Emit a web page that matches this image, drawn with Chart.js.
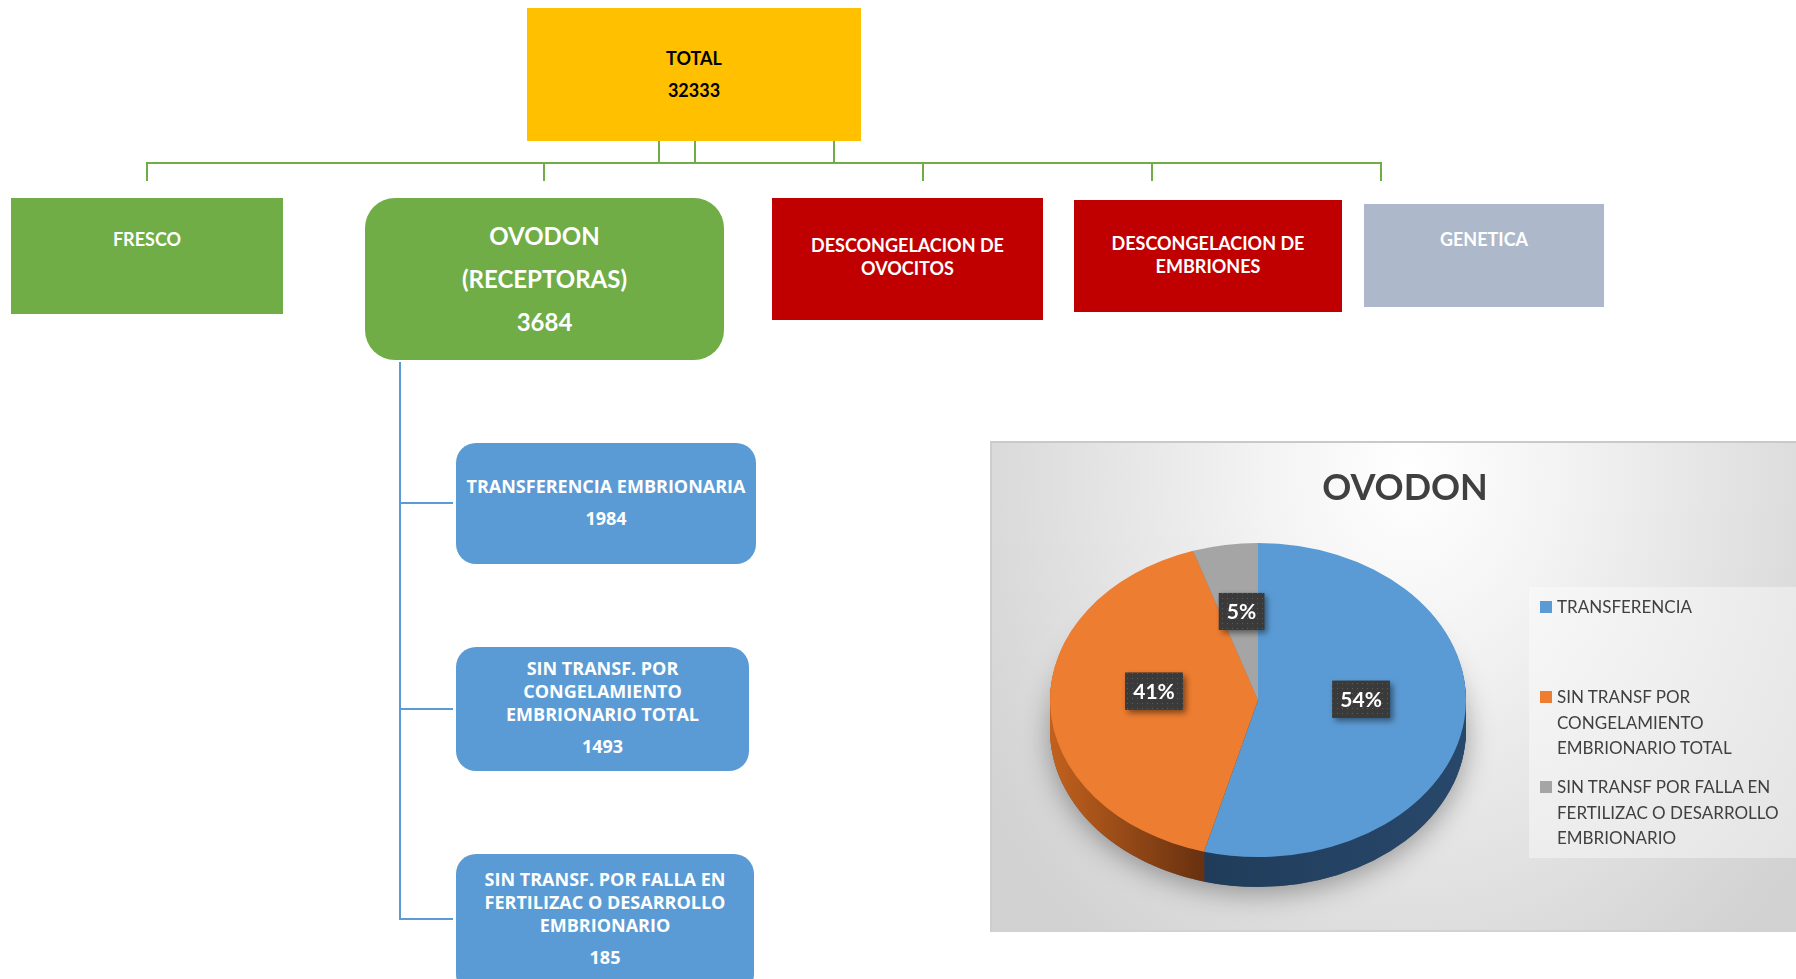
<!DOCTYPE html>
<html lang="es">
<head>
<meta charset="utf-8">
<title>OVODON</title>
<script src="https://cdn.jsdelivr.net/npm/chart.js@4.4.0/dist/chart.umd.min.js"></script>
<style>
  html, body { margin: 0; padding: 0; background: #fff; }
  body { width: 1796px; height: 979px; position: relative; overflow: hidden; font-family: Lato, "Open Sans", sans-serif; }
  .box { position: absolute; box-sizing: border-box; text-align: center; color: #fff; font-weight: 700; }
  .green { background: #70AD47; }
  .red { background: #C00000; }
  .blue { background: #5B9BD5; border-radius: 20px; font-family: "Open Sans", sans-serif; font-size: 18px; line-height: 23px; }
  .gline { position: absolute; background: #70AD47; }
  .bline { position: absolute; background: #5B9BD5; }
  #panel { position: absolute; left: 990px; top: 441px; width: 806px; height: 491px; box-sizing: border-box;
    border-top: 2px solid #c9c9c9; border-left: 2px solid #cdcdcd; border-bottom: 2px solid #d2d2d2;
    background: radial-gradient(ellipse 62% 125% at 52% 6%, #ffffff 0%, #f3f3f3 30%, #d2d2d2 100%); }
  #legendBg { position: absolute; left: 1529px; top: 587px; width: 267px; height: 271px; background: rgba(255,255,255,0.4); }
  #chartWrap { position: absolute; left: 990px; top: 441px; width: 806px; height: 491px; }
  #pieTitle { position: absolute; left: 1255px; top: 464px; width: 300px; text-align: center; font: 700 36px/44px Lato, sans-serif; color: #404040; }
  #legend { position: absolute; left: 0; top: 0; font: 400 17px/25.5px Lato, sans-serif; color: #404040; }
  .item { position: absolute; left: 1540px; }
  .item .sw { position: absolute; left: 0; top: 7px; width: 12px; height: 12px; }
  .item .tx { position: absolute; left: 17px; top: 0; white-space: nowrap; }
</style>
</head>
<body>

<!-- top level -->
<div class="box" style="left:527px;top:8px;width:334px;height:133px;background:#FFC000;color:#000;font-size:18px;line-height:32px;padding-top:34px;">TOTAL<br>32333</div>

<div class="gline" style="left:146px;top:162px;width:1236px;height:2px;"></div>
<div class="gline" style="left:658px;top:141px;width:2px;height:22px;"></div>
<div class="gline" style="left:694px;top:141px;width:2px;height:22px;"></div>
<div class="gline" style="left:833px;top:141px;width:2px;height:22px;"></div>
<div class="gline" style="left:146px;top:162px;width:2px;height:19px;"></div>
<div class="gline" style="left:543px;top:162px;width:2px;height:19px;"></div>
<div class="gline" style="left:922px;top:162px;width:2px;height:19px;"></div>
<div class="gline" style="left:1151px;top:162px;width:2px;height:19px;"></div>
<div class="gline" style="left:1380px;top:162px;width:2px;height:19px;"></div>

<div class="box green" style="left:11px;top:198px;width:272px;height:116px;font-size:18px;line-height:24px;padding-top:29px;">FRESCO</div>
<div class="box green" style="left:365px;top:198px;width:359px;height:162px;border-radius:30px;font-size:24px;line-height:43px;padding-top:16px;">OVODON<br>(RECEPTORAS)<br>3684</div>
<div class="box red" style="left:772px;top:198px;width:271px;height:122px;font-size:18px;line-height:23px;padding-top:36px;">DESCONGELACION DE<br>OVOCITOS</div>
<div class="box red" style="left:1074px;top:200px;width:268px;height:112px;font-size:18px;line-height:23px;padding-top:32px;">DESCONGELACION DE<br>EMBRIONES</div>
<div class="box" style="left:1364px;top:204px;width:240px;height:103px;background:#ADB9CA;font-size:18px;line-height:24px;padding-top:23px;">GENETICA</div>

<!-- ovodon branch -->
<div class="bline" style="left:399px;top:362px;width:2px;height:558px;"></div>
<div class="bline" style="left:399px;top:502px;width:54px;height:2px;"></div>
<div class="bline" style="left:399px;top:708px;width:54px;height:2px;"></div>
<div class="bline" style="left:399px;top:918px;width:54px;height:2px;"></div>

<div class="box blue" style="left:456px;top:443px;width:300px;height:121px;padding-top:32px;">TRANSFERENCIA EMBRIONARIA<div id="n0" style="margin-top:9px;"></div></div>
<div class="box blue" style="left:456px;top:647px;width:293px;height:124px;padding-top:10px;">SIN TRANSF. POR<br>CONGELAMIENTO<br>EMBRIONARIO TOTAL<div id="n1" style="margin-top:9px;"></div></div>
<div class="box blue" style="left:456px;top:854px;width:298px;height:140px;padding-top:14px;">SIN TRANSF. POR FALLA EN<br>FERTILIZAC O DESARROLLO<br>EMBRIONARIO<div id="n2" style="margin-top:9px;"></div></div>

<!-- pie panel -->
<div id="panel"></div>
<div id="legendBg"></div>
<div id="chartWrap"><canvas id="pieChart"></canvas></div>
<div id="pieTitle">OVODON</div>
<div id="legend"></div>

<script>
const categories = [
    ['TRANSFERENCIA'],
    ['SIN TRANSF POR', 'CONGELAMIENTO', 'EMBRIONARIO TOTAL'],
    ['SIN TRANSF POR FALLA EN', 'FERTILIZAC O DESARROLLO', 'EMBRIONARIO']
];
const values = [1984, 1493, 185];
const sliceColors = ['#5B9BD5', '#ED7D31', '#A5A5A5'];

// side of the 3d pie: gradient stops across the pie width
const sideStops = [
    [[0, '#1c3551'], [1, '#28486b']],
    [[0, '#c2611e'], [0.36, '#6a3210'], [1, '#6a3210']],
    [[0, '#707070'], [1, '#8c8c8c']]
];
const tilt = 0.755;
const depth = 30;
const labelLift = 11;

document.addEventListener('DOMContentLoaded', () => {
    values.forEach((v, i) => { document.getElementById('n' + i).textContent = v; });
    buildLegend();
    createPie();
});

function buildLegend() {
    const legend = document.getElementById('legend');
    categories.forEach((lines, i) => {
        const item = document.createElement('div');
        item.className = 'item';
        item.style.top = (594 + 90 * i) + 'px';
        item.innerHTML = `<span class="sw" style="background:${sliceColors[i]}"></span><span class="tx">${lines.join('<br>')}</span>`;
        legend.appendChild(item);
    });
}

function makeDotPattern(ctx) {
    const c = document.createElement('canvas');
    c.width = 5; c.height = 5;
    const p = c.getContext('2d');
    p.fillStyle = '#3a3a3a';
    p.fillRect(0, 0, 5, 5);
    p.fillStyle = '#5c5c5c';
    p.fillRect(2, 2, 1, 1);
    return ctx.createPattern(c, 'repeat');
}

const pie3d = {
    id: 'pie3d',
    beforeDatasetsDraw(chart) {
        const ctx = chart.ctx;
        const arcs = chart.getDatasetMeta(0).data;
        const cx = arcs[0].x, cy = arcs[0].y, r = arcs[0].outerRadius;
        ctx.save();
        ctx.translate(cx, cy);
        ctx.scale(1, tilt);
        ctx.translate(-cx, -cy);

        // soft shadow under the pie
        ctx.save();
        ctx.shadowColor = 'rgba(0,0,0,0.35)';
        ctx.shadowBlur = 28;
        ctx.shadowOffsetY = 6;
        ctx.beginPath();
        ctx.arc(cx, cy + depth / tilt, r, 0, Math.PI * 2);
        ctx.fillStyle = '#555';
        ctx.fill();
        ctx.restore();

        const fills = sideStops.map(stops => {
            const g = ctx.createLinearGradient(cx - r, 0, cx + r, 0);
            stops.forEach(s => g.addColorStop(s[0], s[1]));
            return g;
        });
        for (let d = depth; d >= 1; d--) {
            arcs.forEach((arc, i) => {
                const y = arc.y + d / tilt;
                ctx.beginPath();
                ctx.moveTo(arc.x, y);
                ctx.arc(arc.x, y, arc.outerRadius, arc.startAngle, arc.endAngle);
                ctx.closePath();
                ctx.fillStyle = fills[i];
                ctx.fill();
            });
        }
    },
    afterDatasetsDraw(chart) {
        const ctx = chart.ctx;
        ctx.restore();
        const total = values.reduce((a, b) => a + b, 0);
        const pattern = makeDotPattern(ctx);
        chart.getDatasetMeta(0).data.forEach((arc, i) => {
            const p = arc.tooltipPosition();
            const x = p.x;
            const y = arc.y + (p.y - arc.y) * tilt - labelLift;
            const text = Math.round(values[i] / total * 100) + '%';
            ctx.save();
            ctx.font = '700 21px Lato, sans-serif';
            const w = ctx.measureText(text).width + 16, h = 37;
            ctx.shadowColor = 'rgba(0,0,0,0.45)';
            ctx.shadowBlur = 6;
            ctx.shadowOffsetX = 3;
            ctx.shadowOffsetY = 3;
            ctx.fillStyle = '#3a3a3a';
            ctx.fillRect(x - w / 2, y - h / 2, w, h);
            ctx.shadowColor = 'transparent';
            ctx.fillStyle = pattern;
            ctx.fillRect(x - w / 2, y - h / 2, w, h);
            ctx.fillStyle = '#fff';
            ctx.textAlign = 'center';
            ctx.textBaseline = 'middle';
            ctx.fillText(text, x, y + 1);
            ctx.restore();
        });
    }
};

function createPie() {
    const ctx = document.getElementById('pieChart').getContext('2d');
    new Chart(ctx, {
        type: 'pie',
        data: {
            labels: categories,
            datasets: [{
                data: values,
                backgroundColor: sliceColors,
                borderWidth: 0,
                radius: 208,
                clip: false
            }]
        },
        options: {
            responsive: true,
            maintainAspectRatio: false,
            animation: false,
            events: [],
            layout: {
                padding: { left: 0, right: 270, top: 70, bottom: 43 }
            },
            plugins: {
                legend: { display: false },
                tooltip: { enabled: false },
                title: { display: false }
            }
        },
        plugins: [pie3d]
    });
}
</script>
</body>
</html>
